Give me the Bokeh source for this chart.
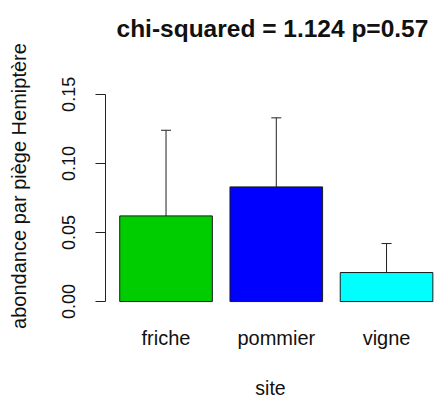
from bokeh.plotting import figure
from bokeh.models import Range1d, FixedTicker, Whisker, ColumnDataSource, TeeHead, Title, PrintfTickFormatter
from bokeh.embed import file_html
from bokeh.resources import INLINE

# ---- data ----
categories = ["friche", "pommier", "vigne"]
means = [0.062, 0.083, 0.021]
errors = [0.062, 0.050, 0.021]
colors = ["#00CD00", "#0000FF", "#00FFFF"]
y_ticks = [0.0, 0.05, 0.10, 0.15]
title_text = "chi-squared = 1.124 p=0.57"
x_label = "site"
y_label = "abondance par piège Hemiptère"

xs = [i + 0.5 for i in range(len(categories))]
upper = [m + e for m, e in zip(means, errors)]
lower = [max(m - e, 0.0) for m, e in zip(means, errors)]

src = ColumnDataSource(dict(x=xs, top=means, upper=upper, lower=lower, color=colors, cat=categories))

FONT = "Liberation Sans"
TXT = "#111111"

p = figure(width=435, height=401,
           x_range=Range1d(-0.049, 2.944), y_range=Range1d(-0.0101, 0.1774),
           output_backend="svg", toolbar_location=None,
           min_border_left=105, min_border_right=0, min_border_top=56, min_border_bottom=85)
p.outline_line_color = None
p.xgrid.grid_line_color = None
p.ygrid.grid_line_color = None
p.background_fill_color = "white"
p.border_fill_color = "white"

p.add_layout(Title(text=title_text, align="left", offset=11, vertical_align="top",
                   text_font=FONT, text_font_style="bold",
                   text_font_size="24.5px", text_color=TXT, standoff=25), "above")

p.vbar(x="x", top="top", bottom=0, width=0.84, fill_color="color", line_color="#1a1a1a",
       line_width=1, source=src)

whisker = Whisker(base="x", upper="upper", lower="lower", source=src,
                  line_color="#222222", line_width=1,
                  upper_head=TeeHead(size=10, line_color="#222222", line_width=1),
                  lower_head=None)
p.add_layout(whisker)

# x axis
xa = p.xaxis[0]
xa.ticker = FixedTicker(ticks=xs)
xa.major_label_overrides = {x: c for x, c in zip(xs, categories)}
xa.axis_line_color = None
xa.major_tick_line_color = None
xa.minor_tick_line_color = None
xa.major_tick_out = 0
xa.major_tick_in = 0
xa.major_label_text_font = FONT
xa.major_label_text_font_size = "20px"
xa.major_label_text_color = TXT
xa.major_label_standoff = 11
xa.axis_label = x_label
xa.axis_label_text_font = FONT
xa.axis_label_text_font_style = "normal"
xa.axis_label_text_font_size = "19.5px"
xa.axis_label_text_color = TXT
xa.axis_label_standoff = 25

# y axis
ya = p.yaxis[0]
ya.ticker = FixedTicker(ticks=y_ticks)
ya.formatter = PrintfTickFormatter(format="%.2f")
ya.bounds = (min(y_ticks), max(y_ticks))
ya.axis_line_color = "#222222"
ya.major_tick_line_color = "#222222"
ya.minor_tick_line_color = None
ya.major_tick_out = 10
ya.major_tick_in = 0
ya.major_label_orientation = "vertical"
ya.major_label_text_font = FONT
ya.major_label_text_font_size = "18px"
ya.major_label_text_color = TXT
ya.major_label_standoff = 20
ya.axis_label = y_label
ya.axis_label_text_font = FONT
ya.axis_label_text_font_style = "normal"
ya.axis_label_text_font_size = "20px"
ya.axis_label_text_color = TXT
ya.axis_label_standoff = 30

open("out.html", "w").write(file_html(p, INLINE))
